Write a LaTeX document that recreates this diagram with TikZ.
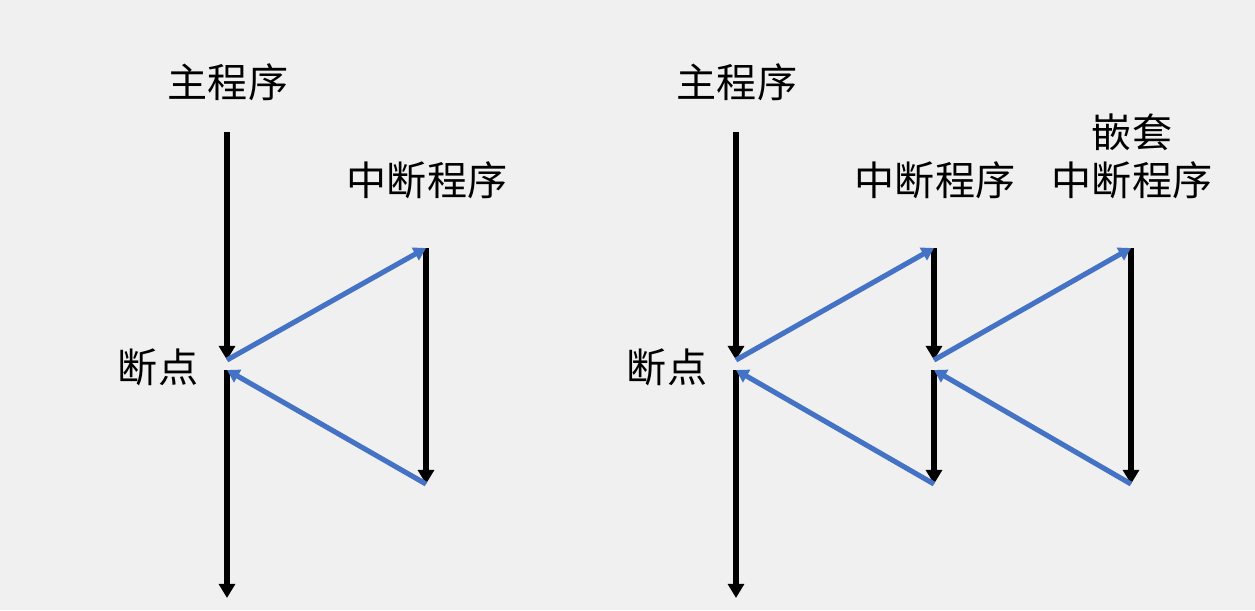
\documentclass[tikz,border=0pt]{standalone}
\usepackage{fontspec}
\newfontfamily\cjk{Noto Sans CJK SC}
\usetikzlibrary{arrows.meta}
\definecolor{bg}{HTML}{F0F0F0}
\definecolor{flow}{HTML}{4472C4}
\begin{document}
\begin{tikzpicture}[x=0.02cm, y=-0.02cm,
    prog/.style={line width=2.9pt, -{Triangle[length=8pt, width=9pt]}},
    jump/.style={flow, line width=2.9pt, -{Triangle[length=7pt, width=8pt]}},
    lbl/.style={font=\cjk\fontsize{22.8}{27.2}\selectfont, inner sep=0pt, align=center}]
    \fill[bg] (0, 0) rectangle (1255, 610);
    \useasboundingbox (0, 0) rectangle (1255, 610);
    % left: single interrupt
    \node[lbl] (mainA) at (228, 82) {主程序};
    \node[lbl] (isrA) at (427, 180) {中断程序};
    \node[lbl] (bpA) at (158, 367) {断点};
    \coordinate (a0) at (227, 132);
    \coordinate (a1) at (227, 360);
    \coordinate (a2) at (227, 370);
    \coordinate (a3) at (227, 598);
    \coordinate (b0) at (426, 248);
    \coordinate (b1) at (426, 484);
    \draw[prog] (a0) -- (a1);
    \draw[prog] (a2) -- (a3);
    \draw[prog] (b0) -- (b1);
    \draw[jump] (a1) -- (b0);
    \draw[jump] (b1) -- (a2);
    % right: nested interrupt
    \node[lbl] (mainB) at (737, 82) {主程序};
    \node[lbl] (isrB) at (935, 180) {中断程序};
    \node[lbl] (nestB) at (1132, 156) {嵌套\\中断程序};
    \node[lbl] (bpB) at (667, 367) {断点};
    \coordinate (c0) at (736, 132);
    \coordinate (c1) at (736, 360);
    \coordinate (c2) at (736, 370);
    \coordinate (c3) at (736, 598);
    \coordinate (d0) at (934, 248);
    \coordinate (d1) at (934, 360);
    \coordinate (d2) at (934, 370);
    \coordinate (d3) at (934, 484);
    \coordinate (e0) at (1131, 248);
    \coordinate (e1) at (1131, 484);
    \draw[prog] (c0) -- (c1);
    \draw[prog] (c2) -- (c3);
    \draw[prog] (d0) -- (d1);
    \draw[prog] (d2) -- (d3);
    \draw[prog] (e0) -- (e1);
    \draw[jump] (c1) -- (d0);
    \draw[jump] (d3) -- (c2);
    \draw[jump] (d1) -- (e0);
    \draw[jump] (e1) -- (d2);
\end{tikzpicture}
\end{document}
